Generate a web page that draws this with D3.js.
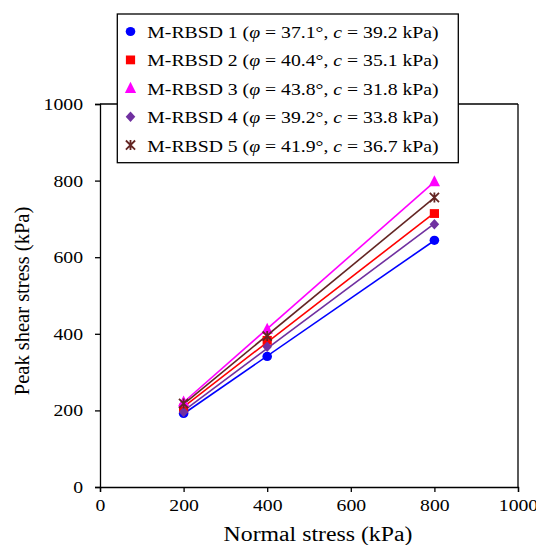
<!DOCTYPE html>
<html><head><meta charset="utf-8">
<script src="https://cdn.jsdelivr.net/npm/d3@7"></script>
<style>
html,body{margin:0;padding:0;background:#fff;}
svg{display:block;font-family:"Liberation Serif","Times New Roman",serif;}
</style></head>
<body><svg id="c" width="536" height="545"></svg>
<script>
const normalStress = [200, 400, 800];
const seriesNames = ["M-RBSD 1", "M-RBSD 2", "M-RBSD 3", "M-RBSD 4", "M-RBSD 5"];
const phiValues = ["37.1", "40.4", "43.8", "39.2", "41.9"];
const cValues = ["39.2", "35.1", "31.8", "33.8", "36.7"];
const s1 = [192, 341, 644];
const s2 = [206, 383, 714];
const s3 = [222, 412, 797];
const s4 = [196, 366, 686];
const s5 = [218, 394, 756];
const seriesValues = [s1, s2, s3, s4, s5];
const colors = ["#0000FF", "#FF0000", "#FF00FF", "#7030A0", "#632523"];
const xTicks = [0, 200, 400, 600, 800, 1000];
const yTicks = [0, 200, 400, 600, 800, 1000];

const SX = 1.16; // horizontal stretch of the original figure's text
const svg = d3.select("#c");
const x = d3.scaleLinear().domain([0, 1000]).range([100, 518]);
const y = d3.scaleLinear().domain([0, 1000]).range([487, 104]);

// frame top/right
svg.append("line").attr("x1", 100).attr("x2", 518).attr("y1", 104).attr("y2", 104).attr("stroke", "#000").attr("stroke-width", 1.3);
svg.append("line").attr("x1", 518).attr("x2", 518).attr("y1", 104).attr("y2", 487).attr("stroke", "#000").attr("stroke-width", 1.3);

const xAxis = svg.append("g").attr("transform", "translate(0,487)")
  .call(d3.axisBottom(x).tickValues(xTicks).tickSize(5).tickPadding(7).tickFormat(d3.format("d")));
const yAxis = svg.append("g").attr("transform", "translate(100,0)")
  .call(d3.axisLeft(y).tickValues(yTicks).tickSize(5).tickPadding(12).tickFormat(d3.format("d")));
[xAxis, yAxis].forEach(a => {
  a.attr("font-family", null);
  a.selectAll("path,line").attr("stroke", "#000").attr("stroke-width", 1.3);
  a.selectAll("text").attr("font-family", "Liberation Serif, serif").attr("font-size", 17).attr("fill", "#000");
});
xAxis.selectAll(".tick text").attr("transform", `scale(${SX},1)`);
yAxis.selectAll(".tick text").attr("x", -17 / SX).attr("transform", `scale(${SX},1)`);

svg.append("text").attr("transform", `translate(318,541) scale(${SX},1)`).attr("text-anchor", "middle")
  .attr("font-size", 20.5).text("Normal stress (kPa)");
svg.append("text").attr("transform", "translate(29,301) rotate(-90)").attr("text-anchor", "middle")
  .attr("font-size", 20.5).text("Peak shear stress (kPa)");

// fitted lines (least squares on the data)
seriesValues.forEach((vals, i) => {
  const mx = d3.mean(normalStress), my = d3.mean(vals);
  const b = d3.sum(normalStress.map((xv, k) => (xv - mx) * (vals[k] - my))) / d3.sum(normalStress.map(xv => (xv - mx) ** 2));
  const a = my - b * mx;
  const x0 = d3.min(normalStress), x1 = d3.max(normalStress);
  svg.append("line").attr("x1", x(x0)).attr("y1", y(a + b * x0)).attr("x2", x(x1)).attr("y2", y(a + b * x1))
    .attr("stroke", colors[i]).attr("stroke-width", 1.6);
});

function drawSym(g, i, cx, cy) {
  const gg = g.append("g").attr("transform", `translate(${cx},${cy})`);
  if (i === 0) {
    gg.append("ellipse").attr("rx", 4.8).attr("ry", 4.6).attr("fill", colors[i]);
  } else if (i === 1) {
    gg.append("rect").attr("x", -4.6).attr("y", -4.4).attr("width", 9.2).attr("height", 8.8).attr("fill", colors[i]);
  } else if (i === 2) {
    gg.append("path").attr("d", "M0,-6.5L5.6,4.6L-5.6,4.6Z").attr("fill", colors[i]);
  } else if (i === 3) {
    gg.append("path").attr("d", "M0,-5.3L4.8,0L0,5.3L-4.8,0Z").attr("fill", colors[i]);
  } else {
    gg.append("path").attr("d", "M-4.6,-4.6L4.6,4.6M-4.6,4.6L4.6,-4.6M0,-5L0,5")
      .attr("fill", "none").attr("stroke", colors[i]).attr("stroke-width", 1.8);
  }
}
seriesValues.forEach((vals, i) => {
  vals.forEach((v, k) => drawSym(svg, i, x(normalStress[k]), y(v)));
});

// legend
const lg = svg.append("g");
lg.append("rect").attr("x", 117.3).attr("y", 14).attr("width", 341).attr("height", 148.7)
  .attr("fill", "#fff").attr("stroke", "#000").attr("stroke-width", 1.3);
seriesNames.forEach((nm, i) => {
  const base = 38 + i * 28.4;
  drawSym(lg, i, 130.5, base - 6.5);
  const t = lg.append("text").attr("transform", `translate(147.3,${base}) scale(${SX},1)`)
    .attr("font-size", 17).attr("fill", "#000");
  t.append("tspan").text(nm + " (");
  t.append("tspan").attr("font-style", "italic").text("φ");
  t.append("tspan").text(" = " + phiValues[i] + "°, ");
  t.append("tspan").attr("font-style", "italic").text("c");
  t.append("tspan").text(" = " + cValues[i] + " kPa)");
});
</script></body></html>
